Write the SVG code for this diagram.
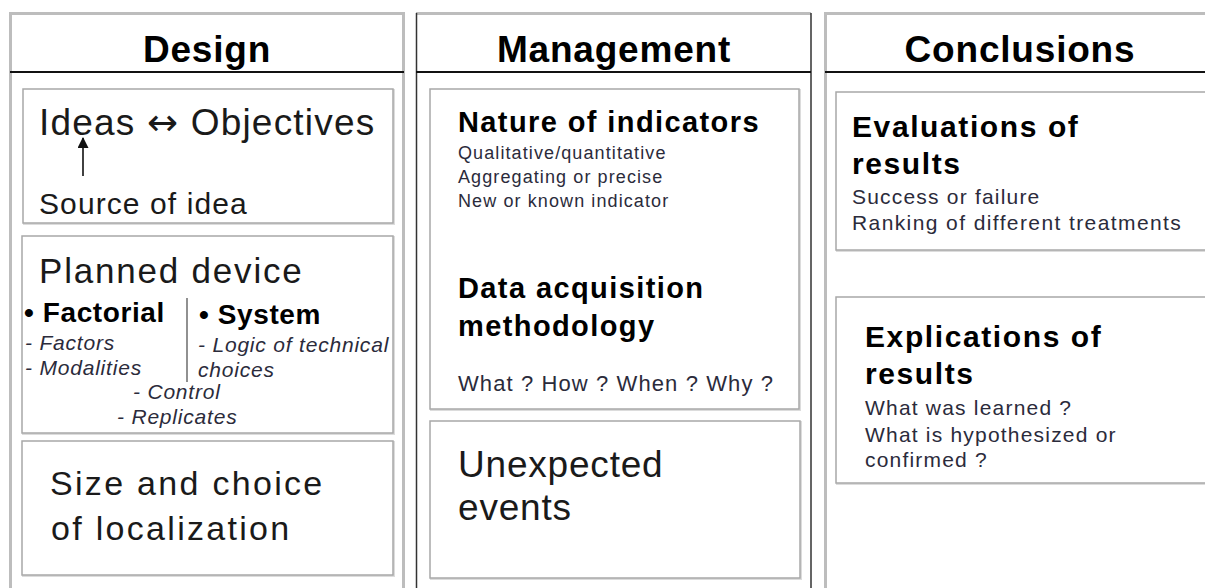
<svg xmlns="http://www.w3.org/2000/svg" width="1205" height="588" viewBox="0 0 1205 588">
  <defs>
    <marker id="arrowhead" viewBox="0 0 10 10" refX="9" refY="5" markerWidth="12" markerHeight="11" orient="auto" markerUnits="userSpaceOnUse">
      <path d="M0,0 L10,5 L0,10 z" fill="#111"/>
    </marker>
    <style>
      text { font-family: "Liberation Sans", Arial, sans-serif; fill: #1a1a1a; }
      .head { font-size: 37px; font-weight: bold; text-anchor: middle; fill: #000; letter-spacing: 0.8px; }
      .big { font-size: 36px; letter-spacing: 1px; }
      .mid { font-size: 31px; letter-spacing: 1px; }
      .bold { font-weight: bold; fill: #000; }
      .sub { font-size: 29px; font-weight: bold; fill: #000; letter-spacing: 1.4px; }
      .small { font-size: 18px; fill: #2b2b3b; letter-spacing: 1.1px; }
      .note { font-size: 21px; fill: #2b2b3b; letter-spacing: 1.2px; }
      .ital { font-size: 21px; font-style: italic; fill: #2b2b3b; letter-spacing: 0.8px; }
      .sym { font-family: "DejaVu Sans", sans-serif; }
      .panel-gray { fill: none; stroke: #bdbdbd; stroke-width: 3; }
      .panel-dark { fill: none; stroke: #333; stroke-width: 1.5; }
      .rule { stroke: #111; stroke-width: 1.8; }
      .box { fill: #fff; stroke: #a8a8a8; stroke-width: 1.5; }
      .shade { fill: none; stroke: #dcdcdc; stroke-width: 2; }
    </style>
  </defs>

  <rect x="0" y="0" width="1205" height="588" fill="#fff"/>

  <!-- column frames -->
  <g id="col-design">
    <path class="panel-gray" d="M10.5,600 V13.5 H403.5 V600"/>
    <line class="rule" x1="10" y1="72" x2="404" y2="72"/>
    <text class="head" x="207" y="62">Design</text>
  </g>
  <g id="col-management">
    <path class="panel-gray" d="M416,13.5 H811"/>
    <path class="panel-dark" d="M416.5,600 V13 M811,13 V600"/>
    <line class="rule" x1="416" y1="72" x2="811" y2="72"/>
    <text class="head" x="614" y="62">Management</text>
  </g>
  <g id="col-conclusions">
    <path class="panel-gray" d="M825.5,600 V13.5 H1210"/>
    <line class="rule" x1="825" y1="72" x2="1205" y2="72"/>
    <text class="head" x="1020" y="62">Conclusions</text>
  </g>

  <!-- Design column -->
  <g id="ideas">
    <rect class="shade" x="24" y="90" width="370" height="134"/>
    <rect class="box" x="23" y="89" width="370" height="134"/>
    <text class="big" x="39" y="135" style="font-size:37px;letter-spacing:1.2px">Ideas <tspan class="sym">↔</tspan> Objectives</text>
    <text class="mid" x="39" y="214" style="font-size:30px;letter-spacing:1.1px">Source of idea</text>
  </g>
  <g id="planned-device">
    <rect class="shade" x="23" y="237" width="371" height="197"/>
    <rect class="box" x="22" y="236" width="371" height="197"/>
    <text class="big" x="39" y="283" style="font-size:35px;letter-spacing:1.8px">Planned device</text>
    <line x1="187" y1="298" x2="187" y2="382" stroke="#555" stroke-width="1.3"/>
    <text class="bold" x="24" y="322" style="font-size:28px;letter-spacing:0.6px">• Factorial</text>
    <text class="bold" x="199" y="324" style="font-size:28px;letter-spacing:0.6px">• System</text>
    <text class="ital" x="25" y="350">- Factors</text>
    <text class="ital" x="25" y="375">- Modalities</text>
    <text class="ital" x="198" y="352">- Logic of technical</text>
    <text class="ital" x="198" y="377">choices</text>
    <text class="ital" x="133" y="399">- Control</text>
    <text class="ital" x="117" y="424">- Replicates</text>
  </g>
  <g id="size-localization">
    <rect class="shade" x="23" y="442" width="371" height="134"/>
    <rect class="box" x="22" y="441" width="371" height="134"/>
    <text class="big" x="50" y="495" style="font-size:34px;letter-spacing:2.3px">Size and choice</text>
    <text class="big" x="51" y="540" style="font-size:34px;letter-spacing:2.3px">of localization</text>
  </g>

  <!-- Management column -->
  <g id="indicators-data">
    <rect class="shade" x="431" y="90" width="369" height="320"/>
    <rect class="box" x="430" y="89" width="369" height="320"/>
    <text class="sub" x="458" y="132">Nature of indicators</text>
    <text class="small" x="458" y="159">Qualitative/quantitative</text>
    <text class="small" x="458" y="183">Aggregating or precise</text>
    <text class="small" x="458" y="207">New or known indicator</text>
    <text class="sub" x="458" y="298">Data acquisition</text>
    <text class="sub" x="458" y="336">methodology</text>
    <text class="note" x="458" y="391" style="font-size:22px;letter-spacing:1.1px">What ? How ? When ? Why ?</text>
  </g>
  <g id="unexpected-events">
    <rect class="shade" x="431" y="422" width="370" height="157"/>
    <rect class="box" x="430" y="421" width="370" height="157"/>
    <text class="big" x="458" y="477" style="font-size:37px;letter-spacing:0.8px">Unexpected</text>
    <text class="big" x="458" y="520" style="font-size:37px;letter-spacing:0.8px">events</text>
  </g>

  <!-- Conclusions column -->
  <g id="evaluations">
    <rect class="shade" x="837" y="93" width="380" height="158"/>
    <rect class="box" x="836" y="92" width="380" height="158"/>
    <text class="sub" x="852" y="137" style="font-size:30px;letter-spacing:1.6px">Evaluations of</text>
    <text class="sub" x="852" y="174" style="font-size:30px;letter-spacing:1.6px">results</text>
    <text class="note" x="852" y="204">Success or failure</text>
    <text class="note" x="852" y="230" style="letter-spacing:1.4px">Ranking of different treatments</text>
  </g>
  <g id="explications">
    <rect class="shade" x="837" y="298" width="380" height="186"/>
    <rect class="box" x="836" y="297" width="380" height="186"/>
    <text class="sub" x="865" y="347" style="font-size:30px;letter-spacing:1.6px">Explications of</text>
    <text class="sub" x="865" y="384" style="font-size:30px;letter-spacing:1.6px">results</text>
    <text class="note" x="865" y="415">What was learned ?</text>
    <text class="note" x="865" y="442">What is hypothesized or</text>
    <text class="note" x="865" y="467">confirmed ?</text>
  </g>

  <!-- connectors -->
  <g id="connectors">
    <line x1="83" y1="176" x2="83" y2="138" stroke="#111" stroke-width="1.6" marker-end="url(#arrowhead)"/>
  </g>
</svg>
